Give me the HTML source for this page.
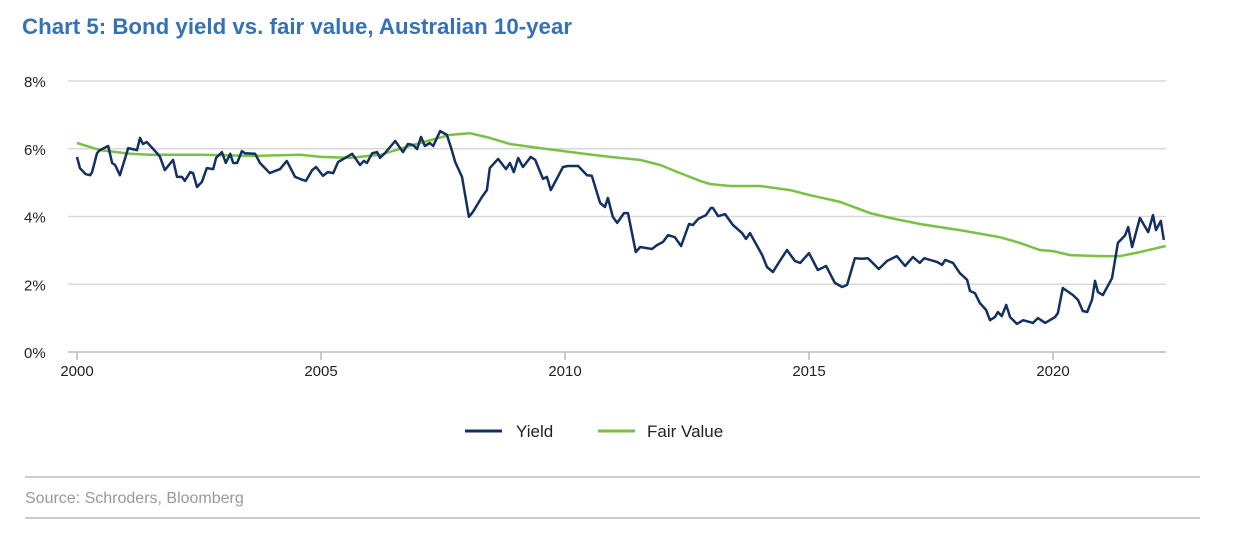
<!DOCTYPE html>
<html><head><meta charset="utf-8"><style>
body{margin:0;background:#fff;font-family:"Liberation Sans",sans-serif;}
#wrap{position:relative;width:1234px;height:544px;overflow:hidden;}
</style></head><body>
<div id="wrap">
<svg id="chart" width="1234" height="544">
<text x="22" y="34" font-family="Liberation Sans, sans-serif" font-weight="bold" font-size="22" fill="#3572b5" textLength="550" lengthAdjust="spacingAndGlyphs">Chart 5: Bond yield vs. fair value, Australian 10-year</text>
<g id="grid"></g><g id="axes"></g><g id="series"></g>
<g>
<g><line x1="465" y1="431" x2="502" y2="431" stroke="#14305f" stroke-width="3"/><text x="516" y="437" font-size="17" fill="#222">Yield</text></g>
<g><line x1="598" y1="431" x2="635" y2="431" stroke="#7ac143" stroke-width="3"/><text x="647" y="437" font-size="17" fill="#222">Fair Value</text></g>
</g>
<line x1="25" y1="477" x2="1200" y2="477" stroke="#999" stroke-width="1"/>
<text x="25" y="503" font-size="16" fill="#999">Source: Schroders, Bloomberg</text>
<line x1="25" y1="518" x2="1200" y2="518" stroke="#999" stroke-width="1"/>
</svg>
</div>
<script>
const yTicks=[0,2,4,6,8];
const xTicks=[2000,2005,2010,2015,2020];
const yieldYears=[2000.0,2000.06,2000.18,2000.27,2000.31,2000.41,2000.47,2000.64,2000.72,2000.78,2000.88,2001.05,2001.23,2001.29,2001.35,2001.43,2001.64,2001.70,2001.80,2001.97,2002.05,2002.15,2002.21,2002.32,2002.38,2002.46,2002.56,2002.66,2002.79,2002.85,2002.97,2003.05,2003.14,2003.20,2003.28,2003.38,2003.44,2003.65,2003.75,2003.95,2004.16,2004.30,2004.47,2004.57,2004.69,2004.82,2004.90,2005.04,2005.14,2005.25,2005.35,2005.64,2005.80,2005.88,2005.94,2006.05,2006.15,2006.21,2006.31,2006.52,2006.68,2006.78,2006.89,2006.97,2007.05,2007.13,2007.23,2007.30,2007.44,2007.58,2007.68,2007.75,2007.89,2008.03,2008.11,2008.30,2008.40,2008.46,2008.63,2008.79,2008.87,2008.95,2009.04,2009.14,2009.30,2009.39,2009.55,2009.63,2009.71,2009.96,2010.06,2010.27,2010.45,2010.55,2010.72,2010.82,2010.88,2010.98,2011.07,2011.21,2011.29,2011.45,2011.54,2011.78,2011.89,2012.01,2012.11,2012.25,2012.38,2012.54,2012.62,2012.73,2012.89,2012.99,2013.03,2013.14,2013.28,2013.44,2013.63,2013.71,2013.79,2014.04,2014.14,2014.26,2014.39,2014.55,2014.71,2014.82,2015.00,2015.18,2015.35,2015.53,2015.68,2015.78,2015.94,2016.09,2016.21,2016.43,2016.60,2016.80,2016.97,2017.13,2017.27,2017.36,2017.62,2017.73,2017.79,2017.95,2018.09,2018.24,2018.30,2018.40,2018.50,2018.63,2018.71,2018.81,2018.87,2018.95,2019.04,2019.12,2019.26,2019.39,2019.59,2019.69,2019.84,2020.04,2020.10,2020.20,2020.41,2020.51,2020.61,2020.70,2020.80,2020.86,2020.92,2021.02,2021.21,2021.33,2021.48,2021.54,2021.62,2021.78,2021.95,2022.05,2022.11,2022.21,2022.27];
const yieldValues=[5.76,5.43,5.25,5.22,5.31,5.87,5.96,6.08,5.58,5.52,5.22,6.02,5.96,6.32,6.14,6.20,5.87,5.76,5.37,5.67,5.17,5.17,5.05,5.31,5.28,4.87,5.02,5.43,5.40,5.73,5.90,5.58,5.85,5.58,5.58,5.93,5.87,5.85,5.58,5.28,5.40,5.64,5.17,5.11,5.05,5.37,5.46,5.20,5.31,5.28,5.61,5.85,5.52,5.64,5.58,5.87,5.90,5.73,5.87,6.23,5.90,6.14,6.11,5.99,6.35,6.08,6.17,6.08,6.52,6.41,5.96,5.61,5.17,3.99,4.13,4.58,4.78,5.43,5.70,5.40,5.58,5.31,5.73,5.46,5.76,5.67,5.11,5.17,4.78,5.46,5.49,5.49,5.22,5.20,4.40,4.28,4.55,3.99,3.81,4.10,4.10,2.95,3.10,3.04,3.16,3.25,3.45,3.39,3.13,3.78,3.75,3.93,4.04,4.25,4.25,4.01,4.07,3.75,3.51,3.34,3.51,2.86,2.51,2.36,2.66,3.01,2.69,2.63,2.92,2.42,2.54,2.04,1.92,1.98,2.77,2.75,2.77,2.45,2.69,2.83,2.54,2.80,2.63,2.77,2.66,2.57,2.72,2.63,2.33,2.13,1.80,1.74,1.45,1.24,0.94,1.03,1.18,1.06,1.39,1.03,0.83,0.94,0.86,1.00,0.86,1.03,1.15,1.89,1.68,1.54,1.21,1.18,1.54,2.10,1.77,1.68,2.18,3.22,3.45,3.69,3.10,3.96,3.54,4.04,3.60,3.87,3.31];
const fairYears=[2000.0,2000.47,2001.09,2001.50,2002.52,2003.55,2004.57,2005.0,2005.59,2006.21,2007.03,2007.64,2008.05,2008.46,2008.87,2009.49,2010.31,2010.92,2011.54,2011.95,2012.36,2012.77,2012.97,2013.38,2014.0,2014.61,2015.02,2015.64,2016.25,2016.66,2017.27,2018.09,2018.91,2019.32,2019.73,2020.0,2020.35,2020.96,2021.37,2021.78,2022.31];
const fairValues=[6.17,5.96,5.85,5.82,5.82,5.79,5.82,5.76,5.73,5.82,6.17,6.41,6.46,6.32,6.14,6.02,5.87,5.76,5.67,5.52,5.28,5.05,4.96,4.90,4.90,4.78,4.63,4.43,4.10,3.96,3.78,3.60,3.39,3.22,3.01,2.98,2.86,2.83,2.83,2.95,3.13];

const NS='http://www.w3.org/2000/svg';
const X0=77,PXY=48.8,Y0=352,PXV=33.875;
function xs(t){return X0+(t-2000)*PXY;}
function ys(v){return Y0-v*PXV;}
function mk(tag,attrs,parent){const e=document.createElementNS(NS,tag);for(const k in attrs)e.setAttribute(k,attrs[k]);parent.appendChild(e);return e;}
const grid=document.getElementById('grid'),axes=document.getElementById('axes'),series=document.getElementById('series');
yTicks.forEach(v=>{
  if(v>0){const l=mk('line',{x1:68,x2:1166,y1:ys(v),y2:ys(v),stroke:'#d9d9d9','stroke-width':1.5},grid);
  
  }
  const t=mk('text',{x:24,y:ys(v)+6,'font-size':15,fill:'#222'},axes);t.textContent=v+'%';
  
  
});
const ax=mk('line',{x1:68,x2:1166,y1:Y0,y2:Y0,stroke:'#bbb','stroke-width':1.5},axes);


xTicks.forEach(yr=>{
  const tk=mk('line',{x1:xs(yr),x2:xs(yr),y1:Y0,y2:Y0+8,stroke:'#bbb','stroke-width':1.5},axes);
  
  
  const t=mk('text',{x:xs(yr),y:Y0+24,'font-size':15,fill:'#222','text-anchor':'middle'},axes);t.textContent=yr;
  
  
});
function path(xa,va){return xa.map((t,i)=>(i?'L':'M')+xs(t).toFixed(1)+','+ys(va[i]).toFixed(1)).join('');}
const fv=mk('path',{d:path(fairYears,fairValues),fill:'none',stroke:'#7ac143','stroke-width':2.5,'stroke-linejoin':'round'},series);


const yl=mk('path',{d:path(yieldYears,yieldValues),fill:'none',stroke:'#14305f','stroke-width':2.5,'stroke-linejoin':'round'},series);


</script>
</body></html>
